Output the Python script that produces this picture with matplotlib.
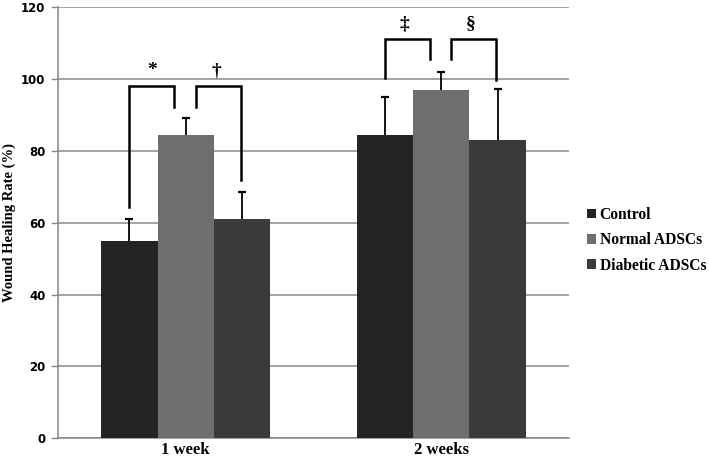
import matplotlib
matplotlib.use("Agg")
import matplotlib.pyplot as plt
import numpy as np

categories = ["1 week", "2 weeks"]
series_names = ["Control", "Normal ADSCs", "Diabetic ADSCs"]
control = [54.8, 84.3]
normal = [84.5, 96.8]
diabetic = [61.1, 82.9]
control_err = [6.3, 10.6]
normal_err = [4.6, 5.2]
diabetic_err = [7.3, 14.2]
yticks = [0, 20, 40, 60, 80, 100, 120]

colors = ["#242424", "#6e6e6e", "#3a3a3a"]
values = [control, normal, diabetic]
errs = [control_err, normal_err, diabetic_err]

fig = plt.figure(figsize=(7.09, 4.61), dpi=100)
ax = fig.add_axes([0.0818, 0.0492, 0.7207, 0.9356])

x = np.arange(len(categories))
w = 0.221
offsets = [-w, 0, w]
for i in range(3):
    ax.bar(x + offsets[i], values[i], width=w, color=colors[i], label=series_names[i],
           zorder=3, edgecolor="none")
    eb = ax.errorbar(x + offsets[i], values[i], yerr=[np.zeros(2), errs[i]], fmt="none",
                     ecolor="black", elinewidth=1.3, capsize=3, capthick=1.6, zorder=4)
    caps = eb[1]
    if len(caps) > 1:
        caps[0].set_visible(False)

ax.set_xlim(-0.5, 1.5)
ax.set_ylim(0, 120)
ax.set_yticks(yticks)
ax.set_yticklabels([str(v) for v in yticks], fontsize=8.5, fontweight="bold", family="DejaVu Sans")
ax.set_xticks(x)
ax.set_xticklabels(categories, fontsize=12, fontweight="bold", family="Liberation Serif")
ax.tick_params(axis="x", length=0, pad=3)
ax.tick_params(axis="y", length=5, width=1, color="#868686", pad=4)
ax.yaxis.grid(True, color="#8a8a8a", linewidth=1.1, zorder=0)
ax.set_axisbelow(True)
for s in ["top", "right"]:
    ax.spines[s].set_visible(False)
ax.spines["left"].set_color("#868686")
ax.spines["bottom"].set_color("#868686")
ax.spines["left"].set_linewidth(1.1)
ax.spines["bottom"].set_linewidth(1.1)
ax.set_ylabel("Wound Healing Rate (%)", fontsize=10.5, fontweight="bold", family="Liberation Serif", labelpad=4)

# significance brackets
def bracket(x1, y1, x2, y2, ytop, label, lx):
    ax.plot([x1, x1, x2, x2], [y1, ytop, ytop, y2], color="black", lw=1.8, zorder=5,
            solid_joinstyle="miter", clip_on=False)
    ax.text(lx, ytop + 4.3, label, ha="center", va="center", fontsize=14,
            family="Liberation Serif", fontweight="bold")

bracket(0 - w, control[0] + 9.6, 0 - 0.045, normal[0] + 7.6, 97.9, "*", -0.133)
bracket(0 + 0.04, normal[0] + 7.6, 0 + w - 0.005, diabetic[0] + 10.9, 97.9, "\u2020", 0.121)
bracket(1 - w, control[1] + 15.9, 1 - 0.045, normal[1] + 8.6, 111.0, "\u2021", 0.857)
bracket(1 + 0.04, normal[1] + 8.6, 1 + w - 0.005, diabetic[1] + 16.9, 111.0, "\u00a7", 1.117)

leg = ax.legend(loc="center left", bbox_to_anchor=(1.008, 0.459), frameon=False,
                prop={"family": "Liberation Serif", "size": 11.2, "weight": "bold"},
                handlelength=0.55, handleheight=0.55, handletextpad=0.25, labelspacing=0.6)

fig.savefig("out.png", dpi=100)
